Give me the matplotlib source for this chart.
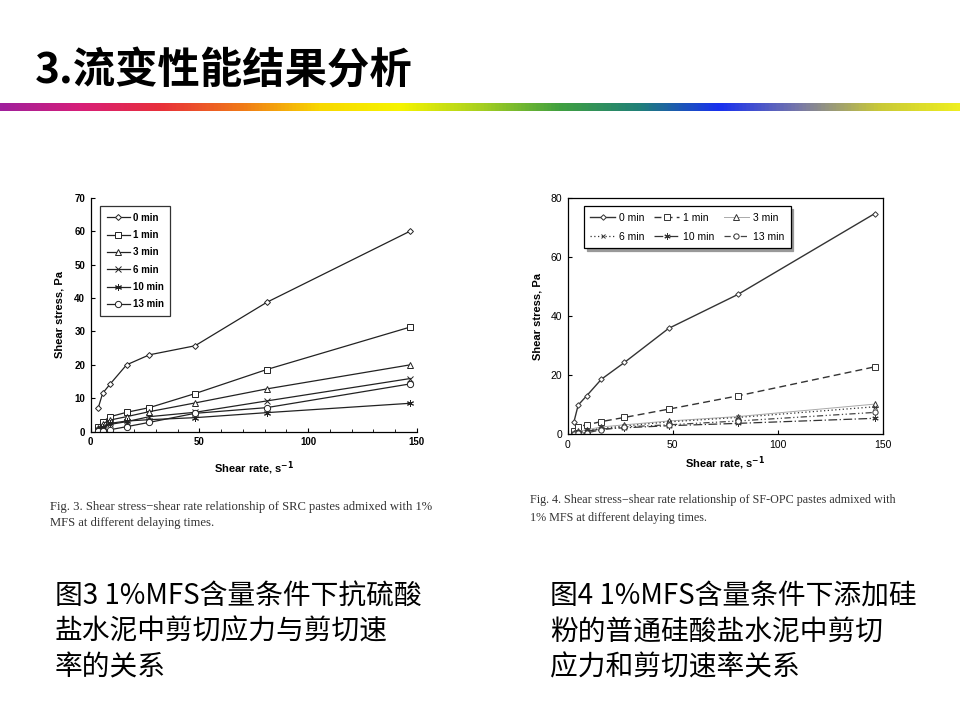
import matplotlib
matplotlib.use("Agg")
import matplotlib.pyplot as plt
import numpy as np
from matplotlib.colors import LinearSegmentedColormap

plt.rcParams['font.family'] = ['Liberation Sans', 'DejaVu Sans']
CJK = ['Noto Sans CJK SC', 'DejaVu Sans']

# ---------------- data ----------------
series_labels = ["0 min", "1 min", "3 min", "6 min", "10 min", "13 min"]

# Fig. 3 (SRC pastes)
rate3 = [3.5, 5.5, 9, 16.5, 27, 48, 81, 147]
src_0 = [7.2, 11.5, 14.3, 20.0, 23.0, 25.7, 38.7, 60.0]
src_1 = [1.5, 3.0, 4.5, 5.8, 7.2, 11.4, 18.6, 31.3]
src_3 = [1.0, 2.4, 3.5, 4.5, 6.0, 8.6, 12.8, 20.0]
src_6 = [0.5, 1.2, 2.2, 3.0, 4.5, 5.8, 9.2, 15.9]
src_10 = [0.8, 1.5, 2.5, 3.2, 3.6, 4.2, 5.7, 8.5]
src_13 = [0.2, 0.3, 0.6, 1.5, 2.8, 5.5, 7.2, 14.3]

# Fig. 4 (SF-OPC pastes)
rate4 = [3, 5, 9, 16, 27, 48, 81, 146]
sf_0 = [4.3, 9.9, 13.0, 18.6, 24.3, 35.8, 47.3, 74.6]
sf_1 = [1.1, 2.6, 3.2, 4.3, 5.7, 8.5, 13.0, 22.8]
sf_3 = [0.5, 1.0, 1.5, 2.5, 3.2, 4.5, 6.0, 10.2]
sf_6 = [0.3, 0.8, 1.2, 2.0, 2.8, 4.2, 5.7, 9.3]
sf_10 = [0.2, 0.5, 1.0, 1.8, 2.2, 2.9, 3.7, 5.4]
sf_13 = [0.1, 0.3, 0.5, 1.5, 2.5, 3.2, 4.5, 7.4]

title = "3.流变性能结果分析"
cap3_en = ["Fig. 3. Shear stress\u2212shear rate relationship of SRC pastes admixed with 1%",
           "MFS at different delaying times."]
cap4_en = ["Fig. 4. Shear stress\u2212shear rate relationship of SF-OPC pastes admixed with",
           "1% MFS at different delaying times."]
cap3_cn = ["图3 1%MFS含量条件下抗硫酸", "盐水泥中剪切应力与剪切速", "率的关系"]
cap4_cn = ["图4 1%MFS含量条件下添加硅", "粉的普通硅酸盐水泥中剪切", "应力和剪切速率关系"]

# ---------------- figure ----------------
fig = plt.figure(figsize=(9.6, 7.2), dpi=100)
W, H = 960, 720

def fx(px):
    return px / W

def fy(py):
    return 1 - py / H

# title
fig.text(fx(35), fy(71), title, family=CJK, fontsize=30.5, fontweight='bold',
         va='center', ha='left', color='black')

# rainbow bar
bar_colors = ["#a0209c", "#d81e78", "#e8303a", "#f07818", "#f8d800", "#f6f400",
              "#a8d020", "#40a040", "#208078", "#1830f0", "#7878a8", "#c8c838", "#eeee20"]
cmap = LinearSegmentedColormap.from_list("rainbow_bar", bar_colors)
axbar = fig.add_axes([0, fy(111), 1, 8 / H])
axbar.imshow(np.linspace(0, 1, 512)[None, :], aspect='auto', cmap=cmap)
axbar.set_axis_off()

# ---------------- chart 1 ----------------
ax1 = fig.add_axes([fx(90.7), fy(431.7), 326 / W, 234 / H])
styles1 = [
    dict(marker='D', ms=3.0),
    dict(marker='s', ms=4.5),
    dict(marker='^', ms=4.0),
    dict(marker='x', ms=4.0),
    dict(marker=(6, 2, 0), ms=5.0),
    dict(marker='o', ms=4.5),
]
for y, lab, st in zip([src_0, src_1, src_3, src_6, src_10, src_13], series_labels, styles1):
    ax1.plot(rate3, y, color='#222222', lw=0.9, mfc='white', mec='#222222', mew=0.7,
             label=lab, **st)
ax1.set_xlim(0, 150)
ax1.set_ylim(0, 70)
ax1.set_xticks([0, 50, 100, 150])
ax1.set_xticks(np.arange(0, 151, 10), minor=True)
ax1.set_yticks(np.arange(0, 71, 10))
for s in ['top', 'right']:
    ax1.spines[s].set_visible(False)
for s in ['left', 'bottom']:
    ax1.spines[s].set_linewidth(0.9)
ax1.tick_params(direction='in', length=3, width=0.8, labelsize=7, pad=4)
ax1.tick_params(which='minor', direction='in', length=2, width=0.6)
for t in ax1.get_xticklabels() + ax1.get_yticklabels():
    t.set_fontweight('bold')
ax1.set_xlabel("Shear rate, s$^{\\mathbf{-1}}$", fontsize=8, fontweight='bold', labelpad=9)
ax1.set_ylabel("Shear stress, Pa", fontsize=8, fontweight='bold', labelpad=7)
leg1 = ax1.legend(loc='upper left', bbox_to_anchor=(0.015, 0.985), fontsize=7,
                  frameon=True, fancybox=False, edgecolor='black', handlelength=2.3,
                  labelspacing=0.75, borderpad=0.7, handletextpad=0.3)
leg1.get_frame().set_linewidth(0.9)
for t in leg1.get_texts():
    t.set_fontweight('bold')

# ---------------- chart 2 ----------------
ax2 = fig.add_axes([fx(567.7), fy(434.3), 315.3 / W, 236.6 / H])
styles2 = [
    dict(marker='D', ms=2.8, ls='-', color='#333333', lw=1.0),
    dict(marker='s', ms=4.0, ls=(0, (5, 3)), color='#333333', lw=1.0),
    dict(marker='^', ms=4.0, ls='-', color='#aaaaaa', lw=0.7),
    dict(marker='x', ms=3.5, ls=(0, (1, 2)), color='#333333', lw=0.9),
    dict(marker=(6, 2, 0), ms=4.5, ls=(0, (7, 2, 1, 2)), color='#333333', lw=0.9),
    dict(marker='o', ms=3.8, ls=(0, (5, 2, 1, 2, 1, 2)), color='#444444', lw=0.9),
]
lines2 = []
for y, lab, st in zip([sf_0, sf_1, sf_3, sf_6, sf_10, sf_13], series_labels, styles2):
    c = st.pop('color')
    ln, = ax2.plot(rate4, y, color=c, mfc='white', mec='#333333', mew=0.7, label=lab, **st)
    lines2.append(ln)
ax2.set_xlim(0, 150)
ax2.set_ylim(0, 80)
ax2.set_xticks([0, 50, 100, 150])
ax2.set_yticks(np.arange(0, 81, 20))
for s in ax2.spines.values():
    s.set_linewidth(0.9)
ax2.tick_params(direction='in', length=3, width=0.8, labelsize=7.5, pad=4)
ax2.set_xlabel("Shear rate, s$^{\\mathbf{-1}}$", fontsize=8, fontweight='bold', labelpad=3)
ax2.set_ylabel("Shear stress, Pa", fontsize=8, fontweight='bold', labelpad=6)
order = [0, 3, 1, 4, 2, 5]  # row-wise layout: 0,1,3 / 6,10,13
leg2 = ax2.legend([lines2[i] for i in order], [series_labels[i] for i in order],
                  loc='upper left', bbox_to_anchor=(0.035, 0.985), ncol=3, fontsize=7.5,
                  frameon=True, fancybox=False, edgecolor='black', handlelength=2.4,
                  columnspacing=0.9, labelspacing=0.9, borderpad=0.6, handletextpad=0.4,
                  shadow={'color': '#999999', 'alpha': 1.0})
leg2.get_frame().set_linewidth(0.9)

# ---------------- captions ----------------
for i, line in enumerate(cap3_en):
    fig.text(fx(50), fy(507 + 16 * i), line, family=['Liberation Serif', 'DejaVu Serif'],
             fontsize=9.1, color='#333333', va='center', ha='left')
for i, line in enumerate(cap4_en):
    fig.text(fx(530), fy(500 + 18 * i), line, family=['Liberation Serif', 'DejaVu Serif'],
             fontsize=8.7, color='#333333', va='center', ha='left')

for i, line in enumerate(cap3_cn):
    fig.text(fx(55), fy(597 + 35 * i), line, family=CJK, fontsize=20,
             color='black', va='center', ha='left')
for i, line in enumerate(cap4_cn):
    fig.text(fx(550), fy(597 + 35 * i), line, family=CJK, fontsize=20,
             color='black', va='center', ha='left')

fig.savefig("out.png", dpi=100, facecolor='white')
